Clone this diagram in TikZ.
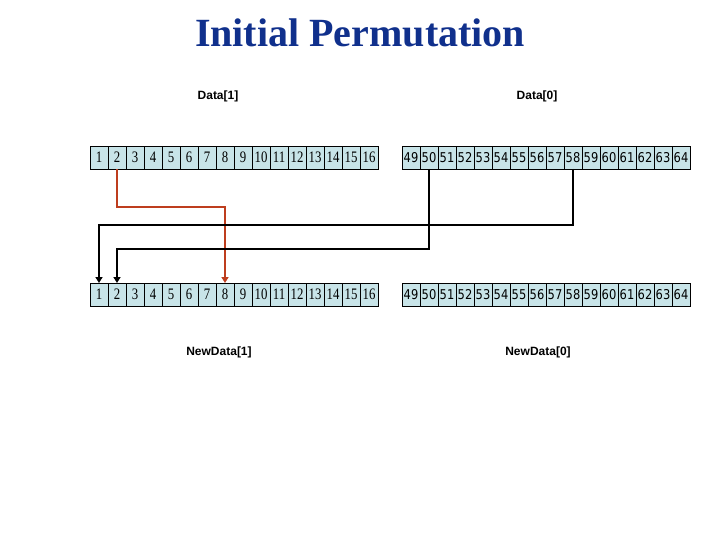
\documentclass[tikz,border=0pt]{standalone}
\usepackage{fontspec}
\setmainfont{Liberation Serif}
\setsansfont{Liberation Sans}
\newfontfamily\lcellfont[FakeStretch=0.8]{Liberation Serif}
\newfontfamily\rcellfont[FakeStretch=0.85]{DejaVu Sans}
\usetikzlibrary{arrows.meta,positioning}

\definecolor{cellblue}{RGB}{200,228,232}
\definecolor{titleblue}{RGB}{16,48,140}
\definecolor{permred}{RGB}{190,62,30}

\begin{document}
\begin{tikzpicture}[
  x=1pt, y=-1pt,
  cell/.style={rectangle, draw, fill=cellblue, minimum width=18pt, minimum height=23pt,
    inner sep=0pt, outer sep=0pt},
  lcell/.style={cell, font=\lcellfont\fontsize{16}{16}\selectfont},
  rcell/.style={cell, font=\rcellfont\fontsize{13.5}{13.5}\selectfont},
  label/.style={font=\sffamily\bfseries\fontsize{12}{12}\selectfont},
  wire/.style={line width=2pt, -{Triangle[width=7pt,length=6pt]}},
  >=Stealth
]
\useasboundingbox (0,0) rectangle (720,540);

\node[font=\bfseries\fontsize{40}{40}\selectfont, text=titleblue] (title) at (360,33) {Initial Permutation};

\node[label] (data1) at (218,96) {Data[1]};
\node[label] (data0) at (537,96) {Data[0]};
\node[label] (new1) at (219,352) {NewData[1]};
\node[label] (new0) at (538,352) {NewData[0]};

% input and output blocks
\foreach \i in {1,...,16} {
  \node[lcell] (t\i) at (81+18*\i,157.5) {\i};
  \node[lcell] (b\i) at (81+18*\i,294.5) {\i};
}
\foreach \j in {49,...,64} {
  \node[rcell] (t\j) at (393+18*\j-864,157.5) {\j};
  \node[rcell] (b\j) at (393+18*\j-864,294.5) {\j};
}

% permutation wires
\draw[wire, permred] (t2.south) -- ([yshift=-38pt]t2.south) -| (b8.north);
\draw[wire] (t58.south) -- ([yshift=-56pt]t58.south) -| (b1.north);
\draw[wire] (t50.south) -- ([yshift=-80pt]t50.south) -| (b2.north);

\end{tikzpicture}
\end{document}
